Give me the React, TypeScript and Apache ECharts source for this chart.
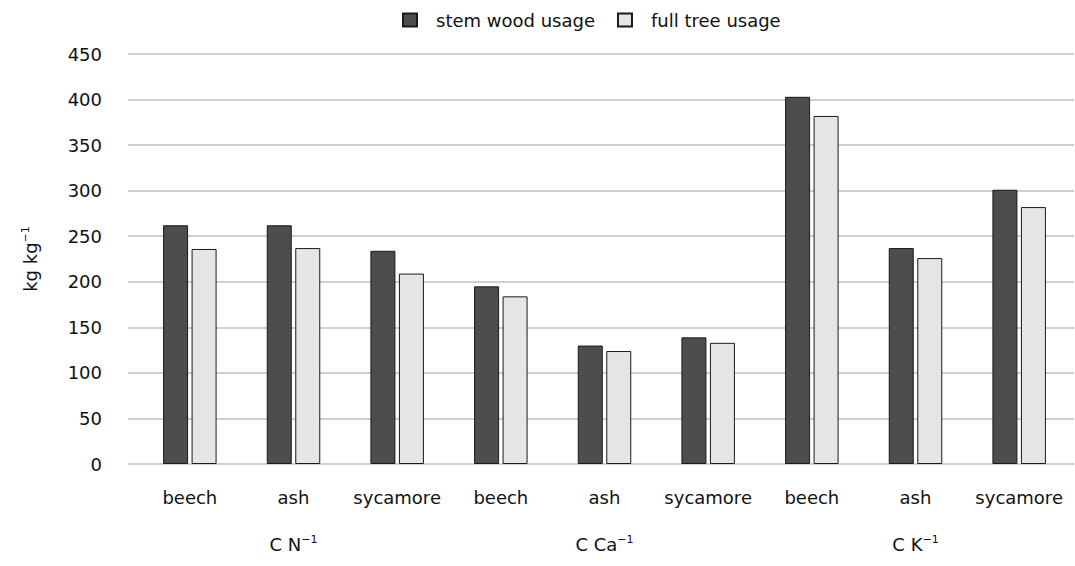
import React, { useEffect, useRef } from "react";
import * as echarts from "echarts";

const species = ["beech", "ash", "sycamore", "beech", "ash", "sycamore", "beech", "ash", "sycamore"];
const ratioLabels = ["", "C N{sup|−1}", "", "", "C Ca{sup|−1}", "", "", "C K{sup|−1}", ""];
const stemWood = [262, 262, 234, 195, 130, 139, 403, 237, 301];
const fullTree = [236, 237, 209, 184, 124, 133, 382, 226, 282];
const seriesNames = ["stem wood usage", "full tree usage"];

const FONT = "DejaVu Sans, Liberation Sans, Arial, sans-serif";
const FS = 18;

export default function App() {
  const ref = useRef<HTMLDivElement>(null);
  useEffect(() => {
    if (!ref.current) return;
    const chart = echarts.init(ref.current, null, { renderer: "svg" });
    const supRich = {
      sup: { fontSize: 11, fontFamily: FONT, color: "#111", verticalAlign: "bottom", padding: [0, 0, 9, 0] },
    };
    chart.setOption({
      animation: false,
      backgroundColor: "#fff",
      textStyle: { fontFamily: FONT, color: "#111" },
      legend: {
        top: 11,
        left: 402,
        padding: 0,
        itemWidth: 14,
        itemHeight: 13,
        itemGap: 22,
        icon: "rect",
        textStyle: { fontSize: FS, color: "#111", fontFamily: FONT, padding: [0, 0, 0, 14] },
        data: seriesNames,
      },
      grid: [
        { left: 128, right: 1, top: 54, bottom: 102 },
        { left: 138, right: 4, top: 54, bottom: 102 },
      ],
      xAxis: [
        { gridIndex: 0, type: "category", data: species, show: false },
        {
          gridIndex: 1,
          type: "category",
          data: species,
          axisLine: { show: false },
          axisTick: { show: false },
          axisLabel: { margin: 24, fontSize: FS, color: "#111", fontFamily: FONT, interval: 0, hideOverlap: false },
        },
        {
          gridIndex: 1,
          type: "category",
          data: ratioLabels,
          position: "bottom",
          axisLine: { show: false },
          axisTick: { show: false },
          axisLabel: {
            margin: 70,
            fontSize: FS,
            color: "#111",
            fontFamily: FONT,
            interval: 0,
            hideOverlap: false,
            formatter: (v: string) => v,
            rich: supRich,
          },
        },
      ],
      yAxis: [
        {
          gridIndex: 0,
          type: "value",
          min: 0,
          max: 450,
          interval: 50,
          name: "kg kg{sup|−1}",
          nameLocation: "middle",
          nameGap: 88,
          nameRotate: 90,
          nameTextStyle: { fontSize: FS, color: "#111", fontFamily: FONT, rich: supRich },
          axisLine: { show: false },
          axisTick: { show: false },
          axisLabel: { margin: 26, fontSize: FS, color: "#111", fontFamily: FONT },
          splitLine: { lineStyle: { color: "#bfbfbf", width: 1.5 } },
        },
        {
          gridIndex: 1,
          type: "value",
          min: 0,
          max: 450,
          interval: 50,
          show: false,
          splitLine: { show: false },
        },
      ],
      series: [
        {
          name: seriesNames[0],
          type: "bar",
          xAxisIndex: 1,
          yAxisIndex: 1,
          data: stemWood,
          barWidth: 25,
          barGap: "14%",
          itemStyle: { color: "#4d4d4d", borderColor: "#1a1a1a", borderWidth: 1 },
        },
        {
          name: seriesNames[1],
          type: "bar",
          xAxisIndex: 1,
          yAxisIndex: 1,
          data: fullTree,
          barWidth: 25,
          barGap: "14%",
          itemStyle: { color: "#e5e5e5", borderColor: "#1a1a1a", borderWidth: 1 },
        },
      ],
    });
    return () => chart.dispose();
  }, []);
  return (
    <div
      ref={ref}
      style={{ position: "fixed", left: 0, top: 0, width: 1075, height: 566 }}
    />
  );
}
